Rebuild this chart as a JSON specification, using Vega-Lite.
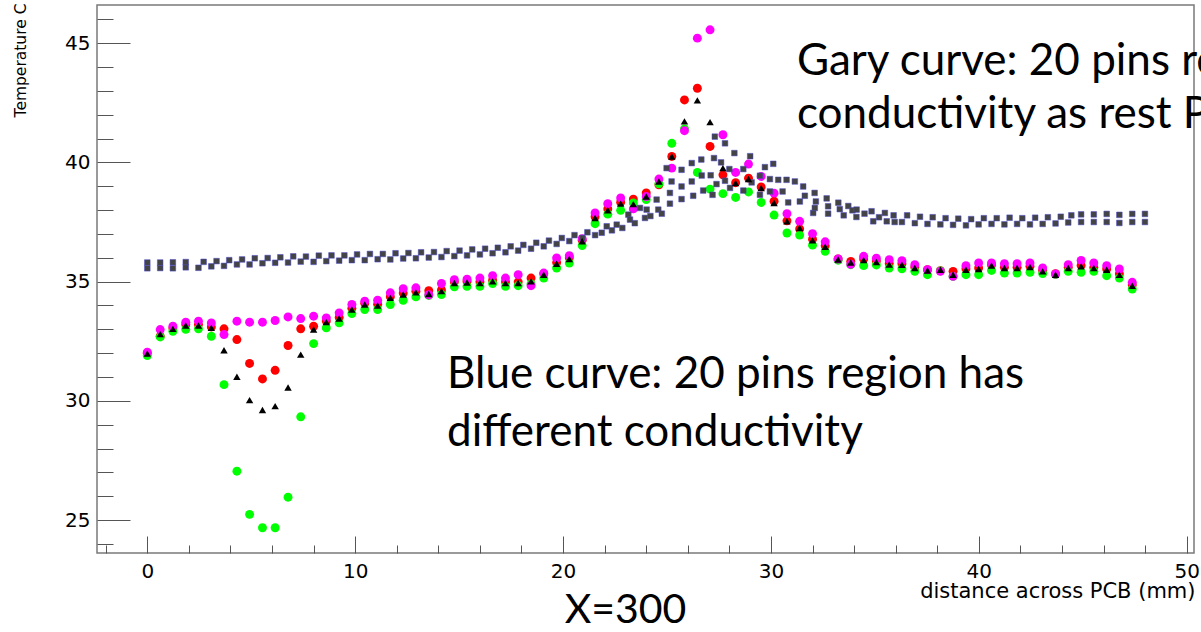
{
  "$schema": "https://vega.github.io/schema/vega-lite/v6.json",
  "width": 1097,
  "height": 548,
  "autosize": {"type": "none"},
  "padding": {"left": 97, "top": 5, "right": 7, "bottom": 79},
  "background": "white",
  "title": {"text": "X=300", "orient": "bottom", "anchor": "middle", "font": "Lato", "fontSize": 41, "fontWeight": "normal", "color": "#000000", "baseline": "alphabetic", "offset": 22, "dx": -20},
  "config": {
    "view": {"stroke": "#7a7a7a", "strokeWidth": 1.5},
    "axis": {"grid": false, "domain": false, "tickColor": "#555555", "tickWidth": 1, "labelColor": "#000000", "labelFont": "DejaVu Sans", "labelFontSize": 20, "labelOverlap": false, "labelBound": false, "labelFlush": false, "titleColor": "#000000", "titleFontWeight": "normal", "titleFont": "DejaVu Sans"}
  },
  "datasets": {
    "red": [{"x":0,"y":32.0},{"x":0.62,"y":32.71},{"x":1.23,"y":33.05},{"x":1.85,"y":33.2},{"x":2.46,"y":33.2},{"x":3.08,"y":33.1},{"x":3.69,"y":33.02},{"x":4.31,"y":32.57},{"x":4.92,"y":31.57},{"x":5.54,"y":30.92},{"x":6.15,"y":31.28},{"x":6.77,"y":32.32},{"x":7.38,"y":33.02},{"x":8.0,"y":33.13},{"x":8.61,"y":33.35},{"x":9.23,"y":33.5},{"x":9.84,"y":33.88},{"x":10.46,"y":34.09},{"x":11.08,"y":34.05},{"x":11.69,"y":34.37},{"x":12.31,"y":34.52},{"x":12.92,"y":34.6},{"x":13.54,"y":34.62},{"x":14.15,"y":34.65},{"x":14.77,"y":34.99},{"x":15.38,"y":35.01},{"x":16.0,"y":34.99},{"x":16.61,"y":35.06},{"x":17.23,"y":34.99},{"x":17.84,"y":34.99},{"x":18.46,"y":35.15},{"x":19.07,"y":35.33},{"x":19.69,"y":35.8},{"x":20.3,"y":36.0},{"x":20.92,"y":36.74},{"x":21.54,"y":37.72},{"x":22.15,"y":38.05},{"x":22.77,"y":38.33},{"x":23.38,"y":38.46},{"x":24.0,"y":38.72},{"x":24.61,"y":39.06},{"x":25.23,"y":40.25},{"x":25.84,"y":42.62},{"x":26.46,"y":43.11},{"x":27.07,"y":40.67},{"x":27.69,"y":39.48},{"x":28.3,"y":39.15},{"x":28.92,"y":39.34},{"x":29.53,"y":38.97},{"x":30.15,"y":38.37},{"x":30.77,"y":37.55},{"x":31.38,"y":37.21},{"x":32.0,"y":36.78},{"x":32.61,"y":36.5},{"x":33.23,"y":35.95},{"x":33.84,"y":35.85},{"x":34.46,"y":35.95},{"x":35.07,"y":35.86},{"x":35.69,"y":35.76},{"x":36.3,"y":35.75},{"x":36.92,"y":35.61},{"x":37.53,"y":35.5},{"x":38.15,"y":35.46},{"x":38.76,"y":35.43},{"x":39.38,"y":35.54},{"x":39.99,"y":35.57},{"x":40.61,"y":35.7},{"x":41.23,"y":35.6},{"x":41.84,"y":35.6},{"x":42.46,"y":35.64},{"x":43.07,"y":35.47},{"x":43.69,"y":35.33},{"x":44.3,"y":35.6},{"x":44.92,"y":35.68},{"x":45.53,"y":35.6},{"x":46.15,"y":35.53},{"x":46.76,"y":35.33},{"x":47.38,"y":34.87}],
    "green": [{"x":0,"y":31.9},{"x":0.62,"y":32.68},{"x":1.23,"y":32.92},{"x":1.85,"y":33.0},{"x":2.46,"y":33.02},{"x":3.08,"y":32.71},{"x":3.69,"y":30.68},{"x":4.31,"y":27.05},{"x":4.92,"y":25.24},{"x":5.54,"y":24.68},{"x":6.15,"y":24.68},{"x":6.77,"y":25.96},{"x":7.38,"y":29.33},{"x":8.0,"y":32.4},{"x":8.61,"y":33.06},{"x":9.23,"y":33.27},{"x":9.84,"y":33.66},{"x":10.46,"y":33.83},{"x":11.08,"y":33.83},{"x":11.69,"y":34.04},{"x":12.31,"y":34.22},{"x":12.92,"y":34.36},{"x":13.54,"y":34.42},{"x":14.15,"y":34.46},{"x":14.77,"y":34.78},{"x":15.38,"y":34.8},{"x":16.0,"y":34.8},{"x":16.61,"y":34.92},{"x":17.23,"y":34.8},{"x":17.84,"y":34.83},{"x":18.46,"y":34.9},{"x":19.07,"y":35.15},{"x":19.69,"y":35.57},{"x":20.3,"y":35.78},{"x":20.92,"y":36.51},{"x":21.54,"y":37.43},{"x":22.15,"y":37.83},{"x":22.77,"y":37.99},{"x":23.38,"y":38.3},{"x":24.0,"y":38.44},{"x":24.61,"y":39.1},{"x":25.23,"y":40.8},{"x":25.84,"y":41.4},{"x":26.46,"y":39.58},{"x":27.07,"y":38.88},{"x":27.69,"y":38.69},{"x":28.3,"y":38.53},{"x":28.92,"y":38.76},{"x":29.53,"y":38.32},{"x":30.15,"y":37.79},{"x":30.77,"y":37.04},{"x":31.38,"y":36.95},{"x":32.0,"y":36.53},{"x":32.61,"y":36.27},{"x":33.23,"y":35.9},{"x":33.84,"y":35.71},{"x":34.46,"y":35.67},{"x":35.07,"y":35.7},{"x":35.69,"y":35.57},{"x":36.3,"y":35.54},{"x":36.92,"y":35.43},{"x":37.53,"y":35.29},{"x":38.15,"y":35.45},{"x":38.76,"y":35.22},{"x":39.38,"y":35.29},{"x":39.99,"y":35.29},{"x":40.61,"y":35.47},{"x":41.23,"y":35.36},{"x":41.84,"y":35.36},{"x":42.46,"y":35.39},{"x":43.07,"y":35.34},{"x":43.69,"y":35.3},{"x":44.3,"y":35.43},{"x":44.92,"y":35.39},{"x":45.53,"y":35.43},{"x":46.15,"y":35.25},{"x":46.76,"y":35.15},{"x":47.38,"y":34.69}],
    "magenta": [{"x":0,"y":32.04},{"x":0.62,"y":32.99},{"x":1.23,"y":33.13},{"x":1.85,"y":33.3},{"x":2.46,"y":33.34},{"x":3.08,"y":33.27},{"x":3.69,"y":32.78},{"x":4.31,"y":33.34},{"x":4.92,"y":33.3},{"x":5.54,"y":33.3},{"x":6.15,"y":33.37},{"x":6.77,"y":33.52},{"x":7.38,"y":33.45},{"x":8.0,"y":33.55},{"x":8.61,"y":33.48},{"x":9.23,"y":33.69},{"x":9.84,"y":34.04},{"x":10.46,"y":34.18},{"x":11.08,"y":34.22},{"x":11.69,"y":34.53},{"x":12.31,"y":34.7},{"x":12.92,"y":34.74},{"x":13.54,"y":34.45},{"x":14.15,"y":34.92},{"x":14.77,"y":35.08},{"x":15.38,"y":35.1},{"x":16.0,"y":35.15},{"x":16.61,"y":35.25},{"x":17.23,"y":35.15},{"x":17.84,"y":35.29},{"x":18.46,"y":34.83},{"x":19.07,"y":35.36},{"x":19.69,"y":35.99},{"x":20.3,"y":36.09},{"x":20.92,"y":36.8},{"x":21.54,"y":37.88},{"x":22.15,"y":38.27},{"x":22.77,"y":38.51},{"x":23.38,"y":38.05},{"x":24.0,"y":38.57},{"x":24.61,"y":39.3},{"x":25.23,"y":39.76},{"x":25.84,"y":41.33},{"x":26.46,"y":45.21},{"x":27.07,"y":45.56},{"x":27.69,"y":41.16},{"x":28.3,"y":39.58},{"x":28.92,"y":39.93},{"x":29.53,"y":39.41},{"x":30.15,"y":38.71},{"x":30.77,"y":37.85},{"x":31.38,"y":37.53},{"x":32.0,"y":37.01},{"x":32.61,"y":36.67},{"x":33.23,"y":35.95},{"x":33.84,"y":35.73},{"x":34.46,"y":36.06},{"x":35.07,"y":35.98},{"x":35.69,"y":35.92},{"x":36.3,"y":35.88},{"x":36.92,"y":35.71},{"x":37.53,"y":35.5},{"x":38.15,"y":35.43},{"x":38.76,"y":35.22},{"x":39.38,"y":35.67},{"x":39.99,"y":35.78},{"x":40.61,"y":35.78},{"x":41.23,"y":35.75},{"x":41.84,"y":35.75},{"x":42.46,"y":35.78},{"x":43.07,"y":35.57},{"x":43.69,"y":35.32},{"x":44.3,"y":35.71},{"x":44.92,"y":35.89},{"x":45.53,"y":35.78},{"x":46.15,"y":35.67},{"x":46.76,"y":35.53},{"x":47.38,"y":34.97}],
    "black": [{"x":0,"y":31.98},{"x":0.62,"y":32.8},{"x":1.23,"y":33.02},{"x":1.85,"y":33.16},{"x":2.46,"y":33.16},{"x":3.08,"y":33.06},{"x":3.69,"y":32.12},{"x":4.31,"y":31.01},{"x":4.92,"y":30.03},{"x":5.54,"y":29.62},{"x":6.15,"y":29.78},{"x":6.77,"y":30.56},{"x":7.38,"y":31.94},{"x":8.0,"y":32.99},{"x":8.61,"y":33.3},{"x":9.23,"y":33.45},{"x":9.84,"y":33.83},{"x":10.46,"y":34.04},{"x":11.08,"y":34.0},{"x":11.69,"y":34.32},{"x":12.31,"y":34.46},{"x":12.92,"y":34.55},{"x":13.54,"y":34.48},{"x":14.15,"y":34.6},{"x":14.77,"y":34.94},{"x":15.38,"y":34.96},{"x":16.0,"y":34.94},{"x":16.61,"y":35.01},{"x":17.23,"y":34.94},{"x":17.84,"y":34.94},{"x":18.46,"y":35.01},{"x":19.07,"y":35.29},{"x":19.69,"y":35.75},{"x":20.3,"y":35.95},{"x":20.92,"y":36.69},{"x":21.54,"y":37.67},{"x":22.15,"y":37.99},{"x":22.77,"y":38.27},{"x":23.38,"y":38.25},{"x":24.0,"y":38.57},{"x":24.61,"y":39.2},{"x":25.23,"y":40.25},{"x":25.84,"y":41.72},{"x":26.46,"y":42.6},{"x":27.07,"y":41.69},{"x":27.69,"y":39.76},{"x":28.3,"y":39.13},{"x":28.92,"y":39.3},{"x":29.53,"y":38.92},{"x":30.15,"y":38.3},{"x":30.77,"y":37.53},{"x":31.38,"y":37.25},{"x":32.0,"y":36.73},{"x":32.61,"y":36.46},{"x":33.23,"y":35.93},{"x":33.84,"y":35.8},{"x":34.46,"y":35.9},{"x":35.07,"y":35.82},{"x":35.69,"y":35.72},{"x":36.3,"y":35.71},{"x":36.92,"y":35.57},{"x":37.53,"y":35.47},{"x":38.15,"y":35.5},{"x":38.76,"y":35.29},{"x":39.38,"y":35.5},{"x":39.99,"y":35.53},{"x":40.61,"y":35.67},{"x":41.23,"y":35.57},{"x":41.84,"y":35.57},{"x":42.46,"y":35.61},{"x":43.07,"y":35.43},{"x":43.69,"y":35.29},{"x":44.3,"y":35.57},{"x":44.92,"y":35.64},{"x":45.53,"y":35.57},{"x":46.15,"y":35.5},{"x":46.76,"y":35.29},{"x":47.38,"y":34.83}],
    "gray": [{"x":0,"y":35.56},{"x":0,"y":35.8},{"x":0.62,"y":35.57},{"x":0.62,"y":35.8},{"x":1.23,"y":35.56},{"x":1.23,"y":35.81},{"x":1.85,"y":35.6},{"x":1.85,"y":35.82},{"x":2.46,"y":35.58},{"x":2.71,"y":35.83},{"x":3.08,"y":35.64},{"x":3.33,"y":35.86},{"x":3.69,"y":35.66},{"x":3.94,"y":35.9},{"x":4.31,"y":35.72},{"x":4.56,"y":35.93},{"x":4.92,"y":35.72},{"x":5.17,"y":35.98},{"x":5.54,"y":35.77},{"x":5.79,"y":35.99},{"x":6.15,"y":35.79},{"x":6.4,"y":36.02},{"x":6.77,"y":35.8},{"x":7.02,"y":36.06},{"x":7.38,"y":35.84},{"x":7.63,"y":36.05},{"x":8.0,"y":35.83},{"x":8.25,"y":36.09},{"x":8.61,"y":35.86},{"x":8.86,"y":36.1},{"x":9.23,"y":35.88},{"x":9.48,"y":36.1},{"x":9.84,"y":35.9},{"x":10.09,"y":36.14},{"x":10.46,"y":35.9},{"x":10.71,"y":36.16},{"x":11.08,"y":35.94},{"x":11.33,"y":36.16},{"x":11.69,"y":35.93},{"x":11.94,"y":36.19},{"x":12.31,"y":35.97},{"x":12.56,"y":36.2},{"x":12.92,"y":35.98},{"x":13.17,"y":36.23},{"x":13.54,"y":36.01},{"x":13.79,"y":36.24},{"x":14.15,"y":36.03},{"x":14.4,"y":36.28},{"x":14.77,"y":36.07},{"x":15.02,"y":36.3},{"x":15.38,"y":36.1},{"x":15.63,"y":36.35},{"x":16.0,"y":36.14},{"x":16.25,"y":36.38},{"x":16.61,"y":36.19},{"x":16.86,"y":36.42},{"x":17.23,"y":36.23},{"x":17.48,"y":36.48},{"x":17.84,"y":36.3},{"x":18.09,"y":36.54},{"x":18.46,"y":36.38},{"x":18.71,"y":36.63},{"x":19.07,"y":36.48},{"x":19.32,"y":36.72},{"x":19.69,"y":36.58},{"x":19.94,"y":36.83},{"x":20.3,"y":36.7},{"x":20.55,"y":36.95},{"x":20.92,"y":36.83},{"x":21.17,"y":37.07},{"x":21.54,"y":36.95},{"x":21.86,"y":37.05},{"x":22.1,"y":37.32},{"x":22.35,"y":37.15},{"x":22.58,"y":37.39},{"x":22.85,"y":37.25},{"x":23.14,"y":37.81},{"x":23.22,"y":37.6},{"x":23.45,"y":37.45},{"x":23.7,"y":38.09},{"x":23.94,"y":37.67},{"x":24.02,"y":38.02},{"x":24.2,"y":37.75},{"x":24.5,"y":38.44},{"x":24.58,"y":38.02},{"x":24.75,"y":37.85},{"x":24.98,"y":39.76},{"x":25.14,"y":38.72},{"x":25.14,"y":38.27},{"x":25.22,"y":39.2},{"x":25.7,"y":39.69},{"x":25.7,"y":38.99},{"x":25.7,"y":38.46},{"x":26.19,"y":39.97},{"x":26.19,"y":39.2},{"x":26.26,"y":38.6},{"x":26.65,"y":40.12},{"x":26.67,"y":39.45},{"x":26.74,"y":38.82},{"x":27.1,"y":39.46},{"x":27.3,"y":41.08},{"x":27.26,"y":40.18},{"x":27.19,"y":38.64},{"x":27.38,"y":39.09},{"x":27.6,"y":40.0},{"x":27.79,"y":40.8},{"x":27.79,"y":39.23},{"x":28.0,"y":39.72},{"x":28.03,"y":38.93},{"x":28.24,"y":40.39},{"x":28.67,"y":39.72},{"x":28.67,"y":38.82},{"x":29.0,"y":40.26},{"x":29.07,"y":39.16},{"x":29.47,"y":39.44},{"x":29.47,"y":38.64},{"x":29.71,"y":39.8},{"x":29.95,"y":39.3},{"x":29.95,"y":38.78},{"x":30.11,"y":39.94},{"x":30.35,"y":39.27},{"x":30.56,"y":38.78},{"x":30.75,"y":39.27},{"x":30.83,"y":38.32},{"x":31.15,"y":39.2},{"x":31.39,"y":38.36},{"x":31.55,"y":38.99},{"x":31.63,"y":38.6},{"x":32.03,"y":37.88},{"x":32.11,"y":38.09},{"x":32.1,"y":38.72},{"x":32.16,"y":38.36},{"x":32.68,"y":38.49},{"x":32.75,"y":38.16},{"x":32.75,"y":37.85},{"x":33.24,"y":38.31},{"x":33.31,"y":38.04},{"x":33.5,"y":37.78},{"x":33.72,"y":38.17},{"x":33.92,"y":37.99},{"x":34.11,"y":37.71},{"x":34.12,"y":38.02},{"x":34.5,"y":37.85},{"x":34.84,"y":37.95},{"x":34.92,"y":37.53},{"x":35.2,"y":37.7},{"x":35.48,"y":37.88},{"x":35.57,"y":37.53},{"x":35.9,"y":37.78},{"x":35.95,"y":37.5},{"x":36.3,"y":37.5},{"x":36.55,"y":37.78},{"x":36.92,"y":37.45},{"x":37.17,"y":37.72},{"x":37.53,"y":37.42},{"x":37.78,"y":37.7},{"x":38.15,"y":37.4},{"x":38.4,"y":37.66},{"x":38.76,"y":37.38},{"x":39.01,"y":37.64},{"x":39.38,"y":37.36},{"x":39.63,"y":37.62},{"x":39.99,"y":37.4},{"x":40.24,"y":37.66},{"x":40.61,"y":37.42},{"x":40.86,"y":37.66},{"x":41.23,"y":37.4},{"x":41.48,"y":37.68},{"x":41.84,"y":37.42},{"x":42.09,"y":37.66},{"x":42.46,"y":37.4},{"x":42.71,"y":37.68},{"x":43.07,"y":37.42},{"x":43.32,"y":37.7},{"x":43.69,"y":37.44},{"x":43.94,"y":37.72},{"x":44.3,"y":37.48},{"x":44.45,"y":37.78},{"x":44.92,"y":37.5},{"x":44.92,"y":37.82},{"x":45.53,"y":37.5},{"x":45.53,"y":37.82},{"x":46.15,"y":37.5},{"x":46.15,"y":37.84},{"x":46.76,"y":37.46},{"x":46.76,"y":37.8},{"x":47.38,"y":37.5},{"x":47.38,"y":37.84},{"x":47.99,"y":37.5},{"x":47.99,"y":37.84}],
    "notes": [{"x":31.25,"y":43.66,"t":"Gary curve: 20 pins re"},{"x":31.25,"y":41.44,"t":"conductivity as rest P"},{"x":14.42,"y":30.54,"t":"Blue curve: 20 pins region has"},{"x":14.42,"y":28.11,"t":"different conductivity"}]
  },
  "encoding": {
    "x": {"field": "x", "type": "quantitative", "scale": {"domain": [-2.42, 50.35], "nice": false, "zero": false},
      "axis": {"title": "distance across PCB (mm)", "values": [-2,0,2,4,6,8,10,12,14,16,18,20,22,24,26,28,30,32,34,36,38,40,42,44,46,48,50],
        "tickSize": {"condition": {"test": "datum.value % 10 === 0", "value": -17}, "value": -8},
        "labelExpr": "datum.value % 10 === 0 ? datum.label : ''", "labelPadding": 25,
        "titleFontSize": 21, "titleAnchor": "end", "titleAlign": "right", "titleBaseline": "alphabetic", "titleX": 1098, "titleY": 44}},
    "y": {"field": "y", "type": "quantitative", "scale": {"domain": [23.62, 46.6], "nice": false, "zero": false},
      "axis": {"title": "Temperature C", "values": [24,25,26,27,28,29,30,31,32,33,34,35,36,37,38,39,40,41,42,43,44,45,46],
        "tickSize": {"condition": {"test": "datum.value % 5 === 0", "value": -33}, "value": -16},
        "labelExpr": "datum.value % 5 === 0 ? datum.label : ''", "labelPadding": 40,
        "titleFontSize": 15.5, "titleAngle": 270, "titleAlign": "right", "titleBaseline": "alphabetic", "titleX": -71.5, "titleY": -2}}
  },
  "layer": [
    {"data": {"name": "red"}, "mark": {"type": "point", "shape": "circle", "filled": true, "size": 80, "color": "#ff0000", "opacity": 1}},
    {"data": {"name": "green"}, "mark": {"type": "point", "shape": "circle", "filled": true, "size": 80, "color": "#00ff00", "opacity": 1}},
    {"data": {"name": "magenta"}, "mark": {"type": "point", "shape": "circle", "filled": true, "size": 80, "color": "#ff00ff", "opacity": 1}},
    {"data": {"name": "gray"}, "mark": {"type": "point", "shape": "square", "filled": true, "size": 32, "fill": "#444444", "stroke": "#4a4ad0", "strokeWidth": 0.5, "opacity": 1}},
    {"data": {"name": "black"}, "mark": {"type": "point", "shape": "triangle-up", "filled": true, "size": 55, "color": "#000000", "opacity": 1}},
    {"data": {"name": "notes"}, "mark": {"type": "text", "align": "left", "baseline": "alphabetic", "font": "Lato", "fontSize": 44, "color": "#000000"}, "encoding": {"text": {"field": "t", "type": "nominal"}}}
  ]
}
